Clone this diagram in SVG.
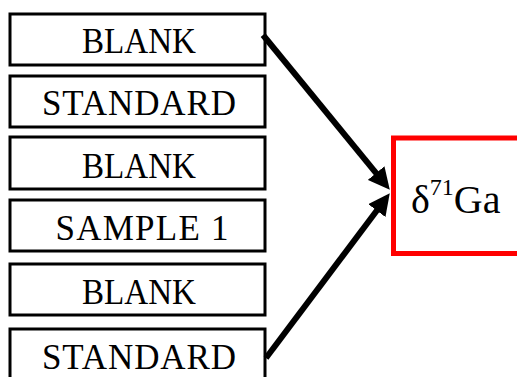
<svg xmlns="http://www.w3.org/2000/svg" width="517" height="377" viewBox="0 0 517 377">
  <style>
    .box { fill: #fff; stroke: #000; stroke-width: 3; }
    .lbl { font-family: "Liberation Serif", "Times New Roman", serif; font-size: 35px; fill: #000; text-anchor: middle; }
    .res { fill: #fff; stroke: #ff0000; stroke-width: 5; }
    .rt { font-family: "Liberation Serif", "Times New Roman", serif; fill: #000; }
    .arrow { stroke: #000; stroke-width: 6; fill: none; marker-end: url(#ah); }
  </style>
  <defs>
    <marker id="ah" markerUnits="strokeWidth" markerWidth="3.6" markerHeight="3.6" refX="2" refY="1.8" orient="auto">
      <path d="M0,0 L3.6,1.8 L0,3.6 z" fill="#000"/>
    </marker>
  </defs>
  <rect width="517" height="377" fill="#fff"/>
  <g id="n1"><rect class="box" x="10" y="14" width="255" height="51"/><text class="lbl" x="139" y="53" textLength="114" lengthAdjust="spacingAndGlyphs">BLANK</text></g>
  <g id="n2"><rect class="box" x="10" y="76" width="255" height="51"/><text class="lbl" x="139" y="115" textLength="194" lengthAdjust="spacing">STANDARD</text></g>
  <g id="n3"><rect class="box" x="10" y="137" width="255" height="52"/><text class="lbl" x="139" y="177.5" textLength="114" lengthAdjust="spacingAndGlyphs">BLANK</text></g>
  <g id="n4"><rect class="box" x="10" y="200" width="255" height="51"/><text class="lbl" x="142" y="240" textLength="173" lengthAdjust="spacing">SAMPLE 1</text></g>
  <g id="n5"><rect class="box" x="10" y="264" width="255" height="51"/><text class="lbl" x="139" y="304" textLength="114" lengthAdjust="spacingAndGlyphs">BLANK</text></g>
  <g id="n6"><rect class="box" x="10" y="329" width="255" height="52"/><text class="lbl" x="139" y="369" textLength="194" lengthAdjust="spacing">STANDARD</text></g>
  <g id="result"><rect class="res" x="393.5" y="138" width="140" height="115.5"/><text class="rt" x="411" y="213" font-size="40">δ<tspan font-size="24" dy="-18">71</tspan><tspan dy="18">Ga</tspan></text></g>
  <g id="connectors">
    <line class="arrow" x1="263" y1="35" x2="383.7" y2="182.3"/>
    <line class="arrow" x1="266" y1="358" x2="384" y2="201"/>
  </g>
</svg>
